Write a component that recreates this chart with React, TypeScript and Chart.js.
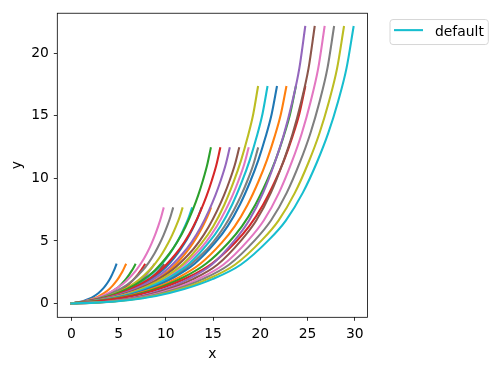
import { useEffect, useRef } from "react";
import { Chart, registerables } from "chart.js";

Chart.register(...registerables);

const COLORS = ["#1f77b4", "#ff7f0e", "#2ca02c", "#d62728", "#9467bd", "#8c564b", "#e377c2", "#7f7f7f", "#bcbd22", "#17becf"];
const X_TICKS = [0, 5, 10, 15, 20, 25, 30];
const Y_TICKS = [0, 5, 10, 15, 20];

// fraction of each curve's own x-extent at which its values were read
const U = [0, 0.1, 0.2, 0.3, 0.4, 0.5, 0.6, 0.7, 0.76, 0.82, 0.87, 0.91, 0.945, 0.975, 1];

// y values read for each group of six curves (same top level within a group)
const Y_G0 = [0, 0.057, 0.133, 0.237, 0.377, 0.566, 0.82, 1.164, 1.426, 1.739, 2.046, 2.328, 2.604, 2.864, 3.1];
const Y_G1 = [0, 0.117, 0.28, 0.506, 0.819, 1.243, 1.822, 2.633, 3.252, 4.018, 4.789, 5.501, 6.217, 6.908, 7.6];
const Y_G2 = [0, 0.156, 0.379, 0.703, 1.163, 1.793, 2.664, 3.935, 4.909, 6.157, 7.441, 8.638, 9.87, 11.09, 12.4];
const Y_G3 = [0, 0.156, 0.396, 0.766, 1.322, 2.093, 3.176, 4.86, 6.159, 7.894, 9.731, 11.46, 13.3, 15.15, 17.3];
const Y_G4 = [0, 0.088, 0.265, 0.597, 1.149, 1.945, 3.094, 5.083, 6.63, 8.84, 11.27, 13.59, 16.13, 18.79, 22.1];

// end x of every curve in each group
const XEND_G0 = [4.75, 5.75, 6.75, 7.75, 8.75, 9.75];
const XEND_G1 = [9.75, 10.75, 11.75, 12.75, 13.75, 14.75];
const XEND_G2 = [14.75, 15.75, 16.75, 17.75, 18.75, 19.75];
const XEND_G3 = [19.75, 20.75, 21.75, 22.75, 23.75, 24.75];
const XEND_G4 = [24.75, 25.75, 26.8, 27.8, 28.85, 29.87];

const GROUP_Y = [Y_G0, Y_G1, Y_G2, Y_G3, Y_G4];
const GROUP_XEND = [XEND_G0, XEND_G1, XEND_G2, XEND_G3, XEND_G4];
const LEGEND_LABEL = "default";

const FONT = "DejaVu Sans";

const spinePlugin = {
  id: "spines",
  afterDatasetsDraw(chart: any) {
    const { ctx, chartArea } = chart;
    ctx.save();
    ctx.strokeStyle = "#000";
    ctx.lineWidth = 0.8;
    ctx.strokeRect(chartArea.left, chartArea.top, chartArea.right - chartArea.left, chartArea.bottom - chartArea.top);
    ctx.restore();
  },
};

const legendPlugin = {
  id: "mplLegend",
  afterDraw(chart: any) {
    const { ctx, chartArea } = chart;
    const ds = chart.data.datasets.find((d: any) => d.label);
    if (!ds) return;
    const x0 = chartArea.right + 22.4;
    const y0 = chartArea.top + 6.3;
    const w = 98.3;
    const h = 25;
    const r = 3;
    ctx.save();
    ctx.beginPath();
    ctx.moveTo(x0 + r, y0);
    ctx.lineTo(x0 + w - r, y0);
    ctx.quadraticCurveTo(x0 + w, y0, x0 + w, y0 + r);
    ctx.lineTo(x0 + w, y0 + h - r);
    ctx.quadraticCurveTo(x0 + w, y0 + h, x0 + w - r, y0 + h);
    ctx.lineTo(x0 + r, y0 + h);
    ctx.quadraticCurveTo(x0, y0 + h, x0, y0 + h - r);
    ctx.lineTo(x0, y0 + r);
    ctx.quadraticCurveTo(x0, y0, x0 + r, y0);
    ctx.closePath();
    ctx.fillStyle = "rgba(255,255,255,0.8)";
    ctx.fill();
    ctx.strokeStyle = "#d6d6d6";
    ctx.lineWidth = 1;
    ctx.stroke();
    ctx.beginPath();
    ctx.strokeStyle = ds.borderColor;
    ctx.lineWidth = 2.08;
    ctx.moveTo(x0 + 4, y0 + 10.6);
    ctx.lineTo(x0 + 33, y0 + 10.6);
    ctx.stroke();
    ctx.fillStyle = "#000";
    ctx.font = `13.89px "${FONT}"`;
    ctx.textBaseline = "alphabetic";
    ctx.textAlign = "left";
    ctx.fillText(ds.label, x0 + 45, y0 + 16.6);
    ctx.restore();
  },
};

export default function App() {
  const ref = useRef<HTMLCanvasElement | null>(null);

  useEffect(() => {
    if (!ref.current) return;
    const datasets: any[] = [];
    const n = GROUP_Y.length * 6;
    GROUP_Y.forEach((ys, g) => {
      GROUP_XEND[g].forEach((xe, k) => {
        const i = g * 6 + k;
        datasets.push({
          label: i === n - 1 ? LEGEND_LABEL : "",
          data: U.map((u, j) => ({ x: u * xe, y: ys[j] })),
          borderColor: COLORS[i % COLORS.length],
          backgroundColor: COLORS[i % COLORS.length],
          borderWidth: 2.08,
          pointRadius: 0,
          fill: false,
          cubicInterpolationMode: "monotone",
          borderCapStyle: "square",
          borderJoinStyle: "round",
          order: n - i,
        });
      });
    });

    const tickFont = { family: FONT, size: 13.89 };
    const chart = new Chart(ref.current, {
      type: "line",
      data: { datasets },
      options: {
        animation: false,
        responsive: false,
        devicePixelRatio: 1,
        layout: { padding: { left: 0, top: 11, right: 130.4, bottom: 0 } },
        plugins: { legend: { display: false }, tooltip: { enabled: false } },
        scales: {
          x: {
            type: "linear",
            min: -1.49,
            max: 31.36,
            afterBuildTicks: (s: any) => {
              s.ticks = X_TICKS.map((v) => ({ value: v }));
            },
            afterFit: (s: any) => {
              s.height = 53.7;
            },
            border: { display: false },
            grid: { display: true, drawOnChartArea: false, drawTicks: true, tickLength: 3.5, tickWidth: 0.8, tickColor: "#000" },
            ticks: { color: "#000", font: tickFont, padding: 4.9, maxRotation: 0, autoSkip: false },
            title: { display: true, text: "x", color: "#000", font: tickFont, padding: { top: 0, bottom: 8.6 } },
          },
          y: {
            type: "linear",
            min: -1.105,
            max: 23.2,
            afterBuildTicks: (s: any) => {
              s.ticks = Y_TICKS.map((v) => ({ value: v }));
            },
            afterFit: (s: any) => {
              s.width = 57.3;
            },
            border: { display: false },
            grid: { display: true, drawOnChartArea: false, drawTicks: true, tickLength: 3.5, tickWidth: 0.8, tickColor: "#000" },
            ticks: { color: "#000", font: tickFont, padding: 4.9, autoSkip: false },
            title: { display: true, text: "y", color: "#000", font: tickFont, padding: { top: 9.2, bottom: 0 } },
          },
        },
      },
      plugins: [spinePlugin, legendPlugin],
    });
    return () => chart.destroy();
  }, []);

  return (
    <div style={{ position: "fixed", left: 0, top: 0, width: 498, height: 371, background: "#fff" }}>
      <canvas ref={ref} width={498} height={371} style={{ width: 498, height: 371, display: "block" }} />
    </div>
  );
}
